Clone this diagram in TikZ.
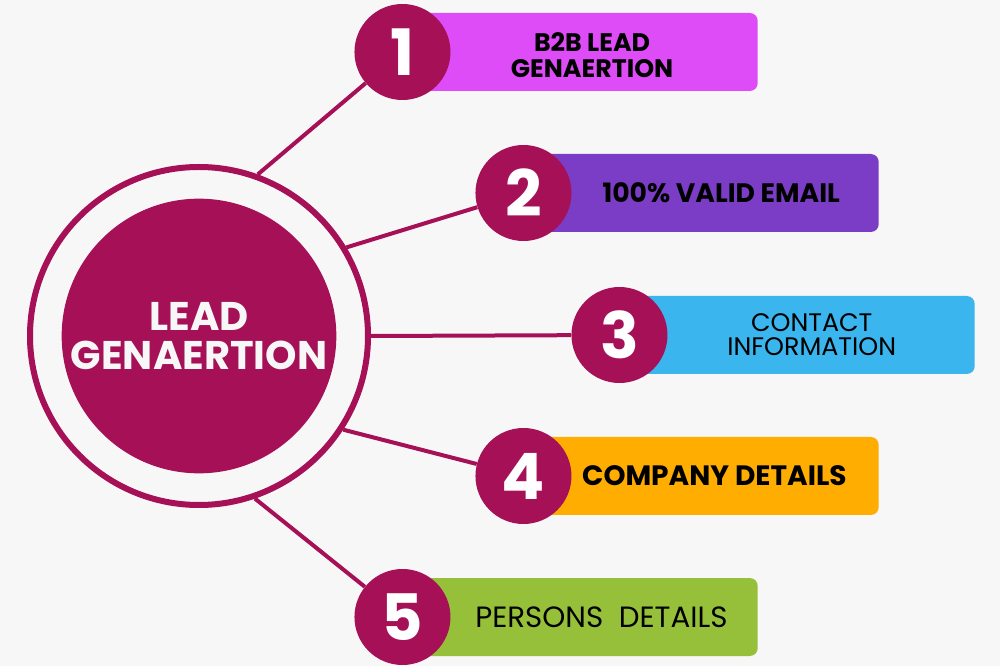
\documentclass[tikz,border=0pt]{standalone}
\usepackage{fontspec}
\setmainfont{Poppins}
\usetikzlibrary{positioning}
\definecolor{paper}{HTML}{F7F7F7}
\definecolor{berry}{HTML}{A51057}
\definecolor{orchid}{HTML}{DD4CF6}
\definecolor{grape}{HTML}{7B3CC6}
\definecolor{sky}{HTML}{3BB5EE}
\definecolor{amber}{HTML}{FFAD00}
\definecolor{lime}{HTML}{97C03A}
\tikzset{
  ring/.style={circle, draw=berry, line width=4.5pt, minimum size=253.5pt, inner sep=0pt},
  hub/.style={circle, fill=berry, text=paper, align=center, minimum size=206pt, inner sep=0pt, font=\bfseries\fontsize{30}{29}\selectfont},
  num/.style={circle, fill=berry, text=white, minimum size=72pt, inner sep=0pt, font=\bfseries\fontsize{48}{48}\selectfont},
  bar/.style={rectangle, rounded corners=6pt, minimum width=262.5pt, minimum height=58.5pt, inner sep=0pt, anchor=east},
  lbl/.style={align=center, text=black, font=\bfseries\fontsize{20}{19.5}\selectfont},
  lblthin/.style={align=center, text=black, font=\fontsize{20}{18}\selectfont},
  spoke/.style={draw=berry, line width=3pt}
}
\begin{document}
\begin{tikzpicture}[x=0.75pt, y=-0.75pt]
\fill[paper] (0,0) rectangle (1000,666);
\useasboundingbox (0,0) rectangle (1000,666);

% centre
\node[ring] (ring) at (199,336) {};
\node[hub] (hub) at (199,336) {LEAD\\GENAERTION};

% bars
\node[bar, fill=orchid] (b1) at (758,52) {};
\node[bar, fill=grape] (b2) at (879,193) {};
\node[bar, fill=sky] (b3) at (975,335) {};
\node[bar, fill=amber] (b4) at (879,476) {};
\node[bar, fill=lime] (b5) at (758,617) {};

% numbers
\node[num, left=3.75pt of b1.west, anchor=center] (n1) {1};
\node[num, left=3.75pt of b2.west, anchor=center] (n2) {2};
\node[num, left=3.75pt of b3.west, anchor=center] (n3) {3};
\node[num, left=3.75pt of b4.west, anchor=center] (n4) {4};
\node[num, left=3.75pt of b5.west, anchor=center] (n5) {5};

% labels
\node[lbl, font=\bfseries\fontsize{19}{19.5}\selectfont] (t1) at ([xshift=7pt,yshift=-2pt]b1.center) {B2B LEAD\\GENAERTION};
\node[lbl] (t2) at ([xshift=13pt]b2.center) {100\% VALID EMAIL};
\node[lblthin, font=\fontsize{19}{18}\selectfont] (t3) at ([xshift=9pt]b3.center) {CONTACT\\INFORMATION};
\node[lbl, font=\bfseries\fontsize{21}{21}\selectfont] (t4) at ([xshift=8pt]b4.center) {COMPANY DETAILS};
\node[lblthin, font=\fontsize{22}{22}\selectfont] (t5) at ([xshift=14pt]b5.center) {PERSONS\ \ DETAILS};

% spokes
\draw[spoke] (ring.70) -- (n1);
\draw[spoke] (ring.31) -- (n2);
\draw[spoke] (ring.0) -- (n3);
\draw[spoke] (ring.-33) -- (n4);
\draw[spoke] (ring.-71) -- (n5);
\end{tikzpicture}
\end{document}
